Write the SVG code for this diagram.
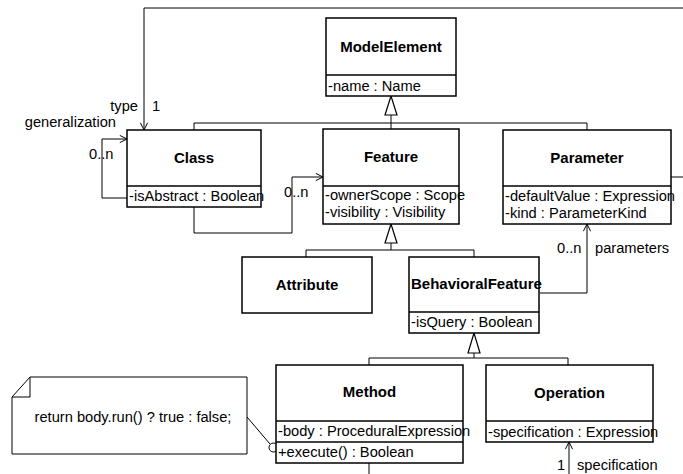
<svg xmlns="http://www.w3.org/2000/svg" width="683" height="474" viewBox="0 0 683 474">
  <style>
    text { font-family: "Liberation Sans", Arial, sans-serif; font-size: 14.67px; fill: #000; }
    .title { font-weight: bold; font-size: 15px; text-anchor: middle; }
    .title-left { font-weight: bold; font-size: 15px; text-anchor: start; }
    .box { fill: #fff; stroke: #000; stroke-width: 1.5; }
    .div { stroke: #000; stroke-width: 1.5; }
    .conn { fill: none; stroke: #000; stroke-width: 1; }
    .gen { fill: #fff; stroke: #000; stroke-width: 1.2; }
  </style>
  <defs>
    <marker id="open" viewBox="0 0 10 10" refX="9" refY="5" markerWidth="9" markerHeight="9" markerUnits="userSpaceOnUse" orient="auto">
      <path d="M1,1 L9,5 L1,9" fill="none" stroke="#000" stroke-width="1.1"/>
    </marker>
  </defs>
  <rect width="683" height="474" fill="#fff"/>

  <!-- connectors -->
  <g id="connectors">
    <!-- generalization tree to ModelElement -->
    <path class="conn" d="M391,115 V123 M194,123 H587 M194,123 V130 M391,123 V129 M587,123 V130"/>
    <polygon class="gen" points="391,96 385,115 397,115"/>
    <!-- generalization tree to Feature -->
    <path class="conn" d="M391,243 V250 M306,250 H474 M306,250 V257 M474,250 V257"/>
    <polygon class="gen" points="391,224 385,243 397,243"/>
    <!-- generalization tree to BehavioralFeature -->
    <path class="conn" d="M474,353 V358 M369,358 H568 M369,358 V365 M568,358 V365"/>
    <polygon class="gen" points="474,333 468,353 480,353"/>
    <!-- Parameter type association -->
    <path class="conn" d="M671,177 H692 V8 H144 V130" marker-end="url(#open)"/>
    <!-- Class generalization self association -->
    <path class="conn" d="M127,198 H102 V139 H127" marker-end="url(#open)"/>
    <!-- Class to Feature -->
    <path class="conn" d="M194,207 V233 H292 V177 H323" marker-end="url(#open)"/>
    <!-- BehavioralFeature parameters -->
    <path class="conn" d="M540,293 H587 V224" marker-end="url(#open)"/>
    <!-- Operation specification -->
    <path class="conn" d="M569,474 V442" marker-end="url(#open)"/>
    <!-- Method continues below -->
    <path class="conn" d="M369,463 V474"/>
    <!-- note anchor -->
    <path class="conn" d="M247,417 L270,444"/>
    <circle cx="273.5" cy="447.5" r="4.5" fill="#fff" stroke="#000" stroke-width="1"/>
  </g>

  <!-- association labels -->
  <g id="labels">
    <text x="138" y="111" text-anchor="end">type</text>
    <text x="152" y="111">1</text>
    <text x="116" y="127" text-anchor="end">generalization</text>
    <text x="89" y="159">0..n</text>
    <text x="284" y="197">0..n</text>
    <text x="557" y="253">0..n</text>
    <text x="595" y="253">parameters</text>
    <text x="557" y="470">1</text>
    <text x="577" y="470">specification</text>
  </g>

  <g id="ModelElement">
    <rect class="box" x="326" y="18" width="130" height="78"/>
    <line class="div" x1="326" y1="75" x2="456" y2="75"/>
    <text class="title" x="391" y="52">ModelElement</text>
    <text x="328" y="91">-name : Name</text>
  </g>

  <g id="Class">
    <rect class="box" x="127" y="130" width="134" height="77"/>
    <line class="div" x1="127" y1="186" x2="261" y2="186"/>
    <text class="title" x="194" y="163">Class</text>
    <text x="129" y="201">-isAbstract : Boolean</text>
  </g>

  <g id="Feature">
    <rect class="box" x="323" y="129" width="136" height="95"/>
    <line class="div" x1="323" y1="186" x2="459" y2="186"/>
    <text class="title" x="391" y="162">Feature</text>
    <text x="325" y="200">-ownerScope : Scope</text>
    <text x="325" y="217">-visibility : Visibility</text>
  </g>

  <g id="Parameter">
    <rect class="box" x="503" y="130" width="168" height="94"/>
    <line class="div" x1="503" y1="186" x2="671" y2="186"/>
    <text class="title" x="587" y="163">Parameter</text>
    <text x="505" y="201">-defaultValue : Expression</text>
    <text x="505" y="218">-kind : ParameterKind</text>
  </g>

  <g id="Attribute">
    <rect class="box" x="242" y="257" width="130" height="56"/>
    <text class="title" x="307" y="290">Attribute</text>
  </g>

  <g id="BehavioralFeature">
    <rect class="box" x="409" y="257" width="130" height="76"/>
    <line class="div" x1="409" y1="312" x2="539" y2="312"/>
    <text class="title-left" x="411" y="289">BehavioralFeature</text>
    <text x="411" y="327">-isQuery : Boolean</text>
  </g>

  <g id="Method">
    <rect class="box" x="276" y="365" width="187" height="98"/>
    <line class="div" x1="276" y1="421" x2="463" y2="421"/>
    <line class="div" x1="276" y1="442" x2="463" y2="442"/>
    <text class="title" x="369.5" y="397">Method</text>
    <text x="278" y="436">-body : ProceduralExpression</text>
    <text x="278" y="457">+execute() : Boolean</text>
  </g>

  <g id="Operation">
    <rect class="box" x="486" y="365" width="167" height="77"/>
    <line class="div" x1="486" y1="421" x2="653" y2="421"/>
    <text class="title" x="569.5" y="398">Operation</text>
    <text x="488" y="437">-specification : Expression</text>
  </g>

  <g id="Note">
    <polygon points="30,377 247,377 247,454 12,454 12,397" fill="#fff" stroke="#000" stroke-width="1"/>
    <path d="M30,377 V397 H12" fill="none" stroke="#000" stroke-width="1"/>
    <text x="133" y="422" text-anchor="middle">return body.run() ? true : false;</text>
  </g>
</svg>
